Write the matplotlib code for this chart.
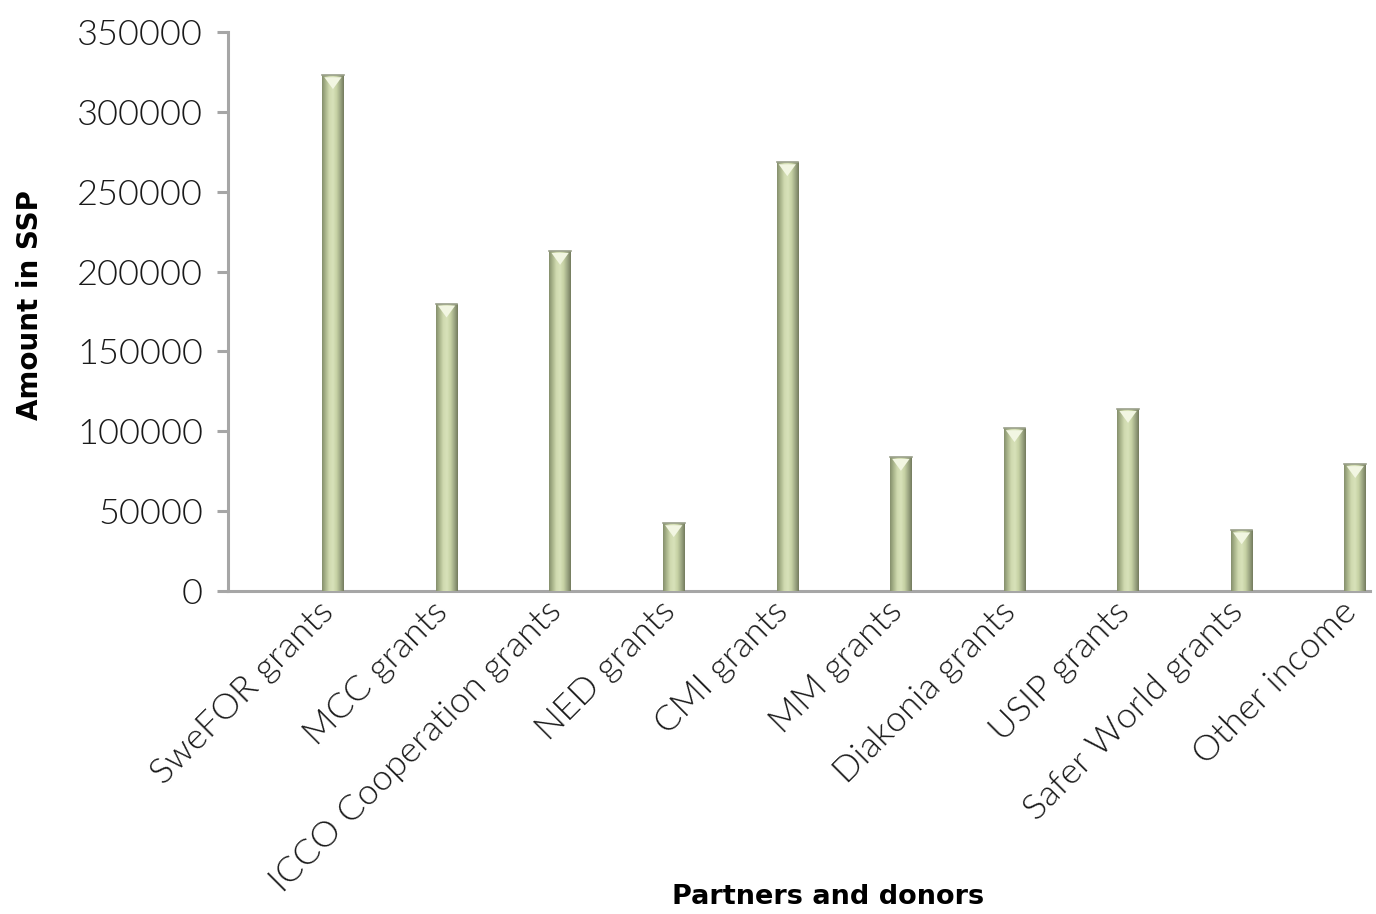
import matplotlib
matplotlib.use("Agg")
import matplotlib.pyplot as plt
import numpy as np
from matplotlib.colors import LinearSegmentedColormap

categories = ["SweFOR grants", "MCC grants", "ICCO Cooperation grants", "NED grants",
              "CMI grants", "MM grants", "Diakonia grants", "USIP grants",
              "Safer World grants", "Other income"]
values = [323000, 180000, 213000, 42500, 268500, 84000, 102000, 114000, 38000, 79500]
yticks = [0, 50000, 100000, 150000, 200000, 250000, 300000, 350000]

fig = plt.figure(figsize=(13.76, 9.14), dpi=100)
ax = fig.add_axes([228/1376, 1-591/914, (1370-228)/1376, (591-32)/914])

x = np.arange(len(categories))
width = 0.19
bars = ax.bar(x, values, width=width, color="#b9c49c", zorder=2)

cmap = LinearSegmentedColormap.from_list(
    "bev", ["#848e6c", "#aab68c", "#d0dab0", "#d8e2b9", "#c6d1a4", "#9ea884", "#737b5d"])
grad = np.linspace(0, 1, 256).reshape(1, -1)
for b in bars:
    bx, by = b.get_x(), b.get_y()
    bw, bh = b.get_width(), b.get_height()
    im = ax.imshow(grad, cmap=cmap, aspect="auto",
                   extent=[bx, bx + bw, by, by + bh], zorder=3)
    im.set_clip_path(b)
    h = 14 / 560 * 350000
    tri = plt.Polygon([[bx + bw*0.1, by + bh - h*0.15], [bx + bw*0.9, by + bh - h*0.15],
                       [bx + bw/2, by + bh - h]], closed=True,
                      facecolor="#f2f6e2", edgecolor="none", zorder=4)
    ax.add_patch(tri)
    ax.plot([bx, bx + bw], [by + bh, by + bh], color="#9aa08a", lw=1.2, zorder=5)

ax.set_xlim(-0.924, 9.13)
ax.set_ylim(0, 350000)
ax.set_yticks(yticks)
ax.set_yticklabels([str(v) for v in yticks],
                   fontdict=dict(family=["Lato", "DejaVu Sans"], size=26, weight=300))
ax.set_xticks(x)
ax.set_xticklabels([])
for xi, cat in zip(x, categories):
    ax.annotate(cat, xy=(xi, 0), xycoords=("data", "axes fraction"),
                xytext=(-11, -3), textcoords="offset points",
                rotation=45, ha="right", va="top", rotation_mode="anchor",
                family=["Lato", "DejaVu Sans"], size=26, weight=300,
                color="#1a1a1a", annotation_clip=False)

for s in ["top", "right"]:
    ax.spines[s].set_visible(False)
for s in ["left", "bottom"]:
    ax.spines[s].set_color("#a6a6a6")
    ax.spines[s].set_linewidth(2.2)
ax.tick_params(axis="y", direction="out", length=8, width=2.2, color="#a6a6a6",
               pad=10, labelcolor="#1a1a1a")
ax.tick_params(axis="x", length=0)

fig.text(30/1376, 1-305/914, "Amount in SSP", rotation=90, ha="center", va="center",
         fontsize=20, fontweight="bold", family=["DejaVu Sans"])
fig.text(828/1376, 1-897/914, "Partners and donors", ha="center", va="center",
         fontsize=19.5, fontweight="bold", family=["DejaVu Sans"])

fig.savefig("out.png", dpi=100)
